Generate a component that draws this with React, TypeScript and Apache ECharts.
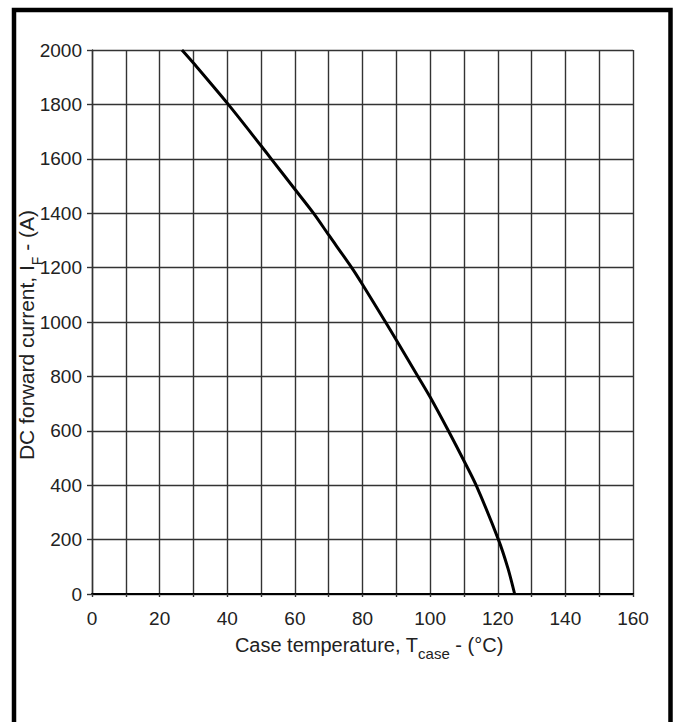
import React, { useEffect, useRef } from "react";
import * as echarts from "echarts";

// Case temperature (°C) and DC forward current (A)
const tempC = [26.6, 30, 40.3, 50, 53, 60, 65.5, 70, 76.8, 80, 86.8, 90, 96.4, 100, 105.4, 110, 113.6, 120.2, 123, 125];
const currentA = [2000, 1952, 1800, 1648, 1600, 1488, 1400, 1320, 1200, 1138, 1000, 934, 800, 724, 600, 490, 400, 200, 95, 0];

const xMin = 0;
const xMax = 160;
const xStep = 10;
const xLabelStep = 20;
const yMin = 0;
const yMax = 2000;
const yStep = 200;

const FONT = "'Liberation Sans', Arial, Helvetica, sans-serif";
const GRID = "#333";

export default function App() {
  const ref = useRef<HTMLDivElement>(null);

  useEffect(() => {
    if (!ref.current) return;
    const chart = echarts.init(ref.current, undefined, { renderer: "svg" });
    const data = tempC.map((t, i) => [t, currentA[i]]);
    chart.setOption({
      animation: false,
      backgroundColor: "#ffffff",
      grid: { left: 92, right: 43, top: 50, bottom: 128, containLabel: false },
      xAxis: {
        type: "value",
        min: xMin,
        max: xMax,
        interval: xStep,
        axisLine: { show: true, onZero: false, lineStyle: { color: "#000", width: 2.2 } },
        axisTick: { show: true, length: 3, lineStyle: { color: GRID, width: 1.4 } },
        splitLine: { show: true, lineStyle: { color: GRID, width: 1.4 } },
        axisLabel: {
          margin: 15,
          fontSize: 19,
          fontFamily: FONT,
          color: "#222",
          formatter: (v: number) => (v % xLabelStep === 0 ? String(v) : ""),
        },
      },
      yAxis: {
        type: "value",
        min: yMin,
        max: yMax,
        interval: yStep,
        axisLine: { show: true, onZero: false, lineStyle: { color: GRID, width: 1.4 } },
        axisTick: { show: true, length: 5, lineStyle: { color: GRID, width: 1.4 } },
        splitLine: { show: true, lineStyle: { color: GRID, width: 1.4 } },
        axisLabel: {
          margin: 10,
          fontSize: 19,
          fontFamily: FONT,
          color: "#222",
          formatter: (v: number) => String(v),
        },
      },
      series: [
        {
          type: "line",
          data,
          showSymbol: false,
          smooth: 0.3,
          lineStyle: { color: "#000", width: 3 },
          z: 5,
        },
      ],
      graphic: [
        {
          type: "rect",
          shape: { x: 14, y: 10, width: 656.5, height: 740 },
          style: { fill: "none", stroke: "#000", lineWidth: 4.5 },
          silent: true,
        },
        {
          type: "text",
          x: 369,
          y: 648,
          style: {
            text: "{a|Case temperature, T}{s|case}{a| - (°C)}",
            align: "center",
            verticalAlign: "middle",
            fill: "#222",
            rich: {
              a: { fontSize: 20, fontFamily: FONT, lineHeight: 26, verticalAlign: "top", fill: "#222" },
              s: { fontSize: 15, fontFamily: FONT, lineHeight: 15, verticalAlign: "bottom", fill: "#222" },
            },
          },
        },
        {
          type: "text",
          x: 30,
          y: 335,
          rotation: Math.PI / 2,
          style: {
            text: "{a|DC forward current, I}{s|F}{a| - (A)}",
            align: "center",
            verticalAlign: "middle",
            fill: "#222",
            rich: {
              a: { fontSize: 21, fontFamily: FONT, lineHeight: 28, verticalAlign: "top", fill: "#222" },
              s: { fontSize: 14, fontFamily: FONT, lineHeight: 14, verticalAlign: "bottom", fill: "#222" },
            },
          },
        },
      ],
    });
    return () => chart.dispose();
  }, []);

  return (
    <div
      ref={ref}
      style={{ position: "fixed", left: 0, top: 0, width: 676, height: 722, background: "#fff" }}
    />
  );
}
